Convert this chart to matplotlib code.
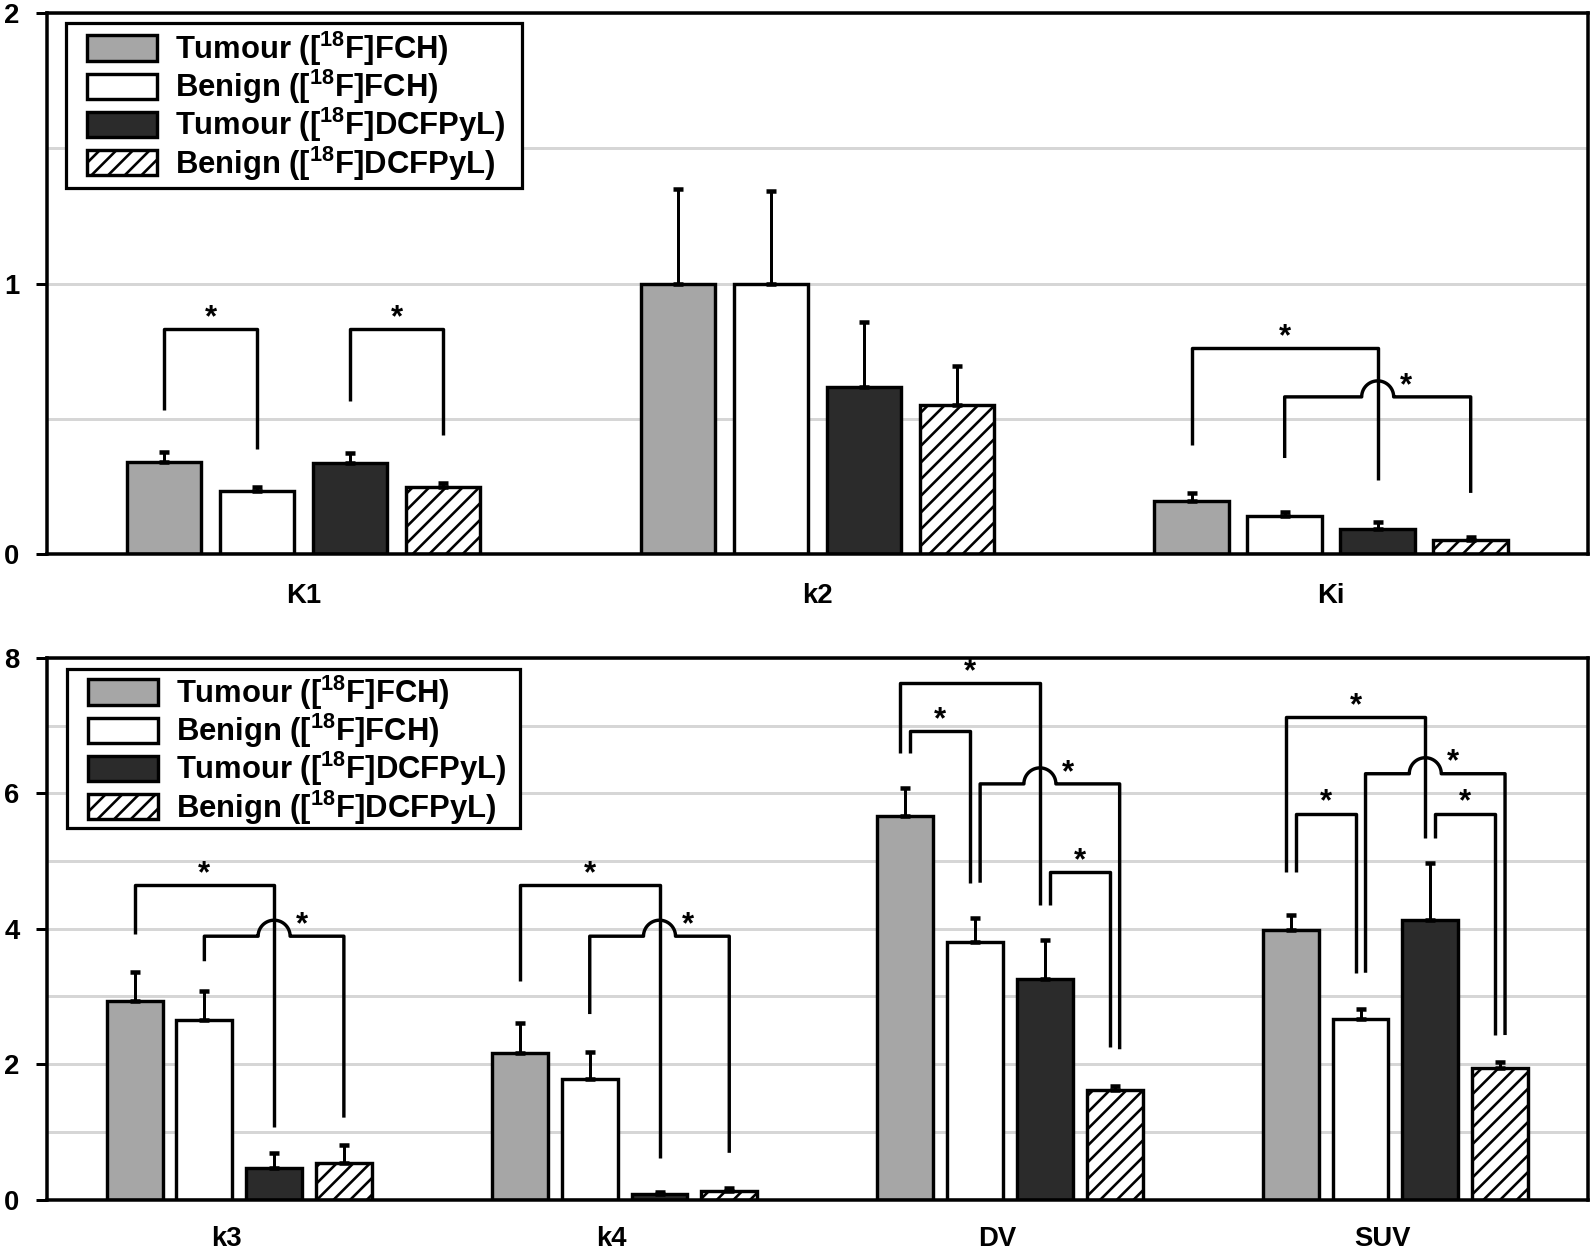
import matplotlib
matplotlib.use("Agg")
import matplotlib.pyplot as plt
import numpy as np
from matplotlib.patches import Rectangle
from matplotlib.ticker import MultipleLocator
from matplotlib.transforms import ScaledTranslation

DPI = 100
PT = 72 / DPI          # points per output pixel; sizes below are given in pixels
W, H = 1594, 1249

plt.rcParams.update({
    "font.family":       "Liberation Sans",
    "font.weight":       "bold",
    "mathtext.fontset":  "custom",
    "mathtext.rm":       "Liberation Sans:bold",
    "mathtext.bf":       "Liberation Sans:bold",
    "mathtext.default":  "rm",
    "hatch.linewidth":   2.6 * PT,
})

# --- data -------------------------------------------------------------------
series_labels = [
    r"Tumour ([$^{18}$F]FCH)",
    r"Benign ([$^{18}$F]FCH)",
    r"Tumour ([$^{18}$F]DCFPyL)",
    r"Benign ([$^{18}$F]DCFPyL)",
]

top_params = ["K1", "k2", "Ki"]
top_tumour_fch = [0.340, 1.000, 0.196]
top_benign_fch = [0.233, 1.000, 0.141]
top_tumour_dcf = [0.337, 0.618, 0.092]
top_benign_dcf = [0.248, 0.551, 0.052]
top_err_tumour_fch = [0.037, 0.350, 0.029]
top_err_benign_fch = [0.015, 0.343, 0.014]
top_err_tumour_dcf = [0.036, 0.240, 0.026]
top_err_benign_dcf = [0.015, 0.144, 0.011]

bot_params = ["k3", "k4", "DV", "SUV"]
bot_tumour_fch = [2.93, 2.17, 5.66, 3.98]
bot_benign_fch = [2.65, 1.78, 3.80, 2.67]
bot_tumour_dcf = [0.47, 0.08, 3.26, 4.13]
bot_benign_dcf = [0.54, 0.13, 1.62, 1.95]
bot_err_tumour_fch = [0.43, 0.44, 0.42, 0.22]
bot_err_benign_fch = [0.43, 0.40, 0.36, 0.15]
bot_err_tumour_dcf = [0.22, 0.03, 0.57, 0.84]
bot_err_benign_dcf = [0.27, 0.04, 0.06, 0.08]

# significance brackets: (group, bar_a, bar_b, top, leg_a_bottom, leg_b_bottom, hump_over_bar)
top_brackets = [
    (0, 0, 1, 0.832, 0.533, 0.388, None),
    (0, 2, 3, 0.832, 0.566, 0.440, None),
    (2, 0, 2, 0.762, 0.403, 0.274, None),
    (2, 1, 3, 0.581, 0.355, 0.226, 2),
]
bot_brackets = [
    (0, 0, 2, 4.65, 3.92, 1.07, None),
    (0, 1, 3, 3.89, 3.52, 1.21, 2),
    (1, 0, 2, 4.65, 3.23, 0.61, None),
    (1, 1, 3, 3.89, 2.74, 0.69, 2),
    (2, 0, 2, 7.63, 6.60, 4.35, None),
    (2, 0, 1, 6.92, 6.60, 4.68, None),
    (2, 1, 3, 6.14, 4.68, 2.22, 2),
    (2, 2, 3, 4.84, 4.35, 2.25, None),
    (3, 0, 2, 7.13, 4.84, 5.34, None),
    (3, 0, 1, 5.70, 4.84, 3.35, None),
    (3, 1, 3, 6.29, 3.35, 2.43, 2),
    (3, 2, 3, 5.70, 5.34, 2.43, None),
]

# --- style ------------------------------------------------------------------
FACE = ["#a6a6a6", "white", "#2b2b2b", "white"]
HATCH = [None, None, None, "//"]
BAR_W = 0.145
BAR_STEP = 0.181
LW = 3.4 * PT


def px_scale(ax):
    bb = ax.get_window_extent()
    x0, x1 = ax.get_xlim()
    y0, y1 = ax.get_ylim()
    return (x1 - x0) / bb.width, (y1 - y0) / bb.height


def px_to_axes(ax, X, Y):
    # image pixel coords (origin top-left) -> axes fraction
    return ax.transAxes.inverted().transform((X, H - Y))


def draw_brackets(ax, brackets):
    sx, sy = px_scale(ax)
    offs = [(k - 1.5) * BAR_STEP for k in range(4)]

    # legs sharing one bar are split 10 px apart so they don't overlap
    legs = {}
    for bi, (g, a, b, *_rest) in enumerate(brackets):
        legs.setdefault((g, a), []).append((bi, b))
        legs.setdefault((g, b), []).append((bi, a))
    leg_x = {}
    for (g, bar), items in legs.items():
        items = sorted(items, key=lambda t: (t[1] > bar, -t[1]))
        n = len(items)
        for i, (bi, _p) in enumerate(items):
            shift = (i - (n - 1) / 2) * 10 if n > 1 else 0
            leg_x[(bi, bar)] = g + offs[bar] + shift * sx

    r = 16
    for bi, (g, a, b, top, ya, yb, hump) in enumerate(brackets):
        xa, xb = leg_x[(bi, a)], leg_x[(bi, b)]
        xs = [xa, xa]
        ys = [ya, top]
        if hump is not None:
            hx = None
            for bj, (g2, a2, b2, top2, ya2, yb2, _h) in enumerate(brackets):
                if g2 != g or bj == bi or hump not in (a2, b2):
                    continue
                bottom = ya2 if a2 == hump else yb2
                if top2 > top > bottom:
                    hx = leg_x[(bj, hump)]
            t = np.linspace(np.pi, 0, 40)
            xs += list(hx + r * sx * np.cos(t))
            ys += list(top + r * sy * np.sin(t))
            star_x = hx + 28 * sx
        else:
            star_x = (xa + xb) / 2
        xs += [xb, xb]
        ys += [top, yb]
        ax.plot(xs, ys, color="black", lw=LW, solid_joinstyle="round",
                solid_capstyle="butt", zorder=5)
        ax.text(star_x, top + 3 * sy, "*", ha="center", va="baseline",
                fontsize=31 * PT, zorder=6)


def draw_panel(ax, params, means, errs, brackets, ymax, major, minor,
               shift_px, label_pad, frame_px, rows_center_px):
    x = np.arange(len(params))
    ax.set_xlim(-0.5, len(params) - 0.5)
    ax.set_ylim(0, ymax)
    handles = []
    for k in range(4):
        bars = ax.bar(
            x + (k - 1.5) * BAR_STEP, means[k], BAR_W,
            color=FACE[k], edgecolor="black", linewidth=LW, hatch=HATCH[k],
            yerr=[np.zeros(len(params)), errs[k]],
            error_kw=dict(ecolor="black", elinewidth=3 * PT, capsize=5 * PT,
                          capthick=4.5 * PT, zorder=4),
            zorder=3, label=series_labels[k],
        )
        handles.append(bars)

    ax.set_xticks(x)
    ax.set_xticklabels(params)
    ax.set_yticks(major)
    ax.yaxis.set_minor_locator(MultipleLocator(minor))
    ax.tick_params(axis="x", length=0, pad=label_pad * PT, labelsize=27.5 * PT)
    ax.tick_params(axis="y", which="major", length=11 * PT, width=3 * PT,
                   direction="out", pad=16 * PT, labelsize=27.5 * PT)
    ax.tick_params(axis="y", which="minor", length=0)
    ax.yaxis.grid(True, which="both", color="#d6d6d6", lw=3 * PT)
    ax.set_axisbelow(True)
    for sp in ax.spines.values():
        sp.set_linewidth(3.5 * PT)
        sp.set_zorder(7)
    if shift_px:
        for lbl in ax.get_xticklabels():
            lbl.set_transform(lbl.get_transform()
                              + ScaledTranslation(shift_px / DPI, 0, fig.dpi_scale_trans))

    draw_brackets(ax, brackets)

    # legend frame drawn separately (the original has wider side padding)
    fx0, fy0, fx1, fy1 = frame_px
    (ax0, ay1), (ax1, ay0) = px_to_axes(ax, fx0, fy0), px_to_axes(ax, fx1, fy1)
    ax.add_patch(Rectangle((ax0, ay0), ax1 - ax0, ay1 - ay0, transform=ax.transAxes,
                           facecolor="white", edgecolor="black", lw=3.2 * PT,
                           zorder=7.5, clip_on=False))
    lx, ly = px_to_axes(ax, fx0 + 21, rows_center_px)
    leg = ax.legend(
        handles, series_labels, loc="center left",
        bbox_to_anchor=(lx, ly), borderaxespad=0, borderpad=0,
        fontsize=31 * PT, frameon=False, handlelength=2.26,
        handleheight=0.87, handletextpad=0.58, labelspacing=0.0,
    )
    leg.set_zorder(8)


fig = plt.figure(figsize=(W / DPI, H / DPI), dpi=DPI)
ax_top = fig.add_axes([0.0292, 0.5564, 0.9671, 0.4332])
ax_bot = fig.add_axes([0.0292, 0.0396, 0.9671, 0.4336])

draw_panel(
    ax_top, top_params,
    [top_tumour_fch, top_benign_fch, top_tumour_dcf, top_benign_dcf],
    [top_err_tumour_fch, top_err_benign_fch, top_err_tumour_dcf, top_err_benign_dcf],
    top_brackets, 2, [0, 1, 2], 0.5, 0, 29,
    (66, 23, 522, 188), 106,
)
draw_panel(
    ax_bot, bot_params,
    [bot_tumour_fch, bot_benign_fch, bot_tumour_dcf, bot_benign_dcf],
    [bot_err_tumour_fch, bot_err_benign_fch, bot_err_tumour_dcf, bot_err_benign_dcf],
    bot_brackets, 8, [0, 2, 4, 6, 8], 1, -13, 26,
    (67, 669, 520, 828), 750,
)

fig.savefig("out.png", dpi=DPI, facecolor="white")
